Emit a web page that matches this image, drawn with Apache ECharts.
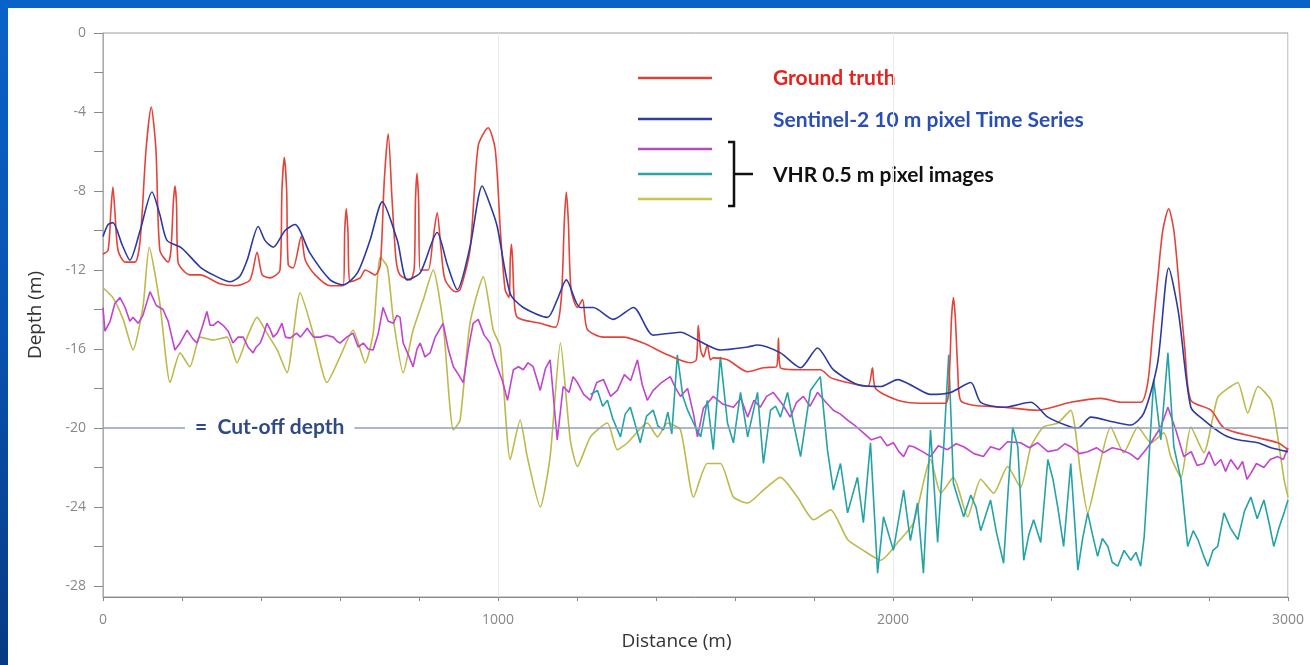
<!DOCTYPE html>
<html>
<head>
<meta charset="utf-8">
<title>Depth profile</title>
<script src="https://cdn.jsdelivr.net/npm/echarts@6/dist/echarts.min.js"></script>
<style>
  html, body {
    margin: 0;
    padding: 0;
    width: 1310px;
    height: 665px;
    overflow: hidden;
    background: linear-gradient(180deg, #0a62c8 0%, #0852b0 50%, #083a84 100%);
  }
  #ChartDom {
    position: absolute;
    left: 8px;
    top: 8px;
    width: 1302px;
    height: 657px;
    background: #ffffff;
  }
</style>
</head>
<body>
<div id="ChartDom"></div>
<script>
// [distance (m), depth (m)]
const groundTruth = [
  [0,-11.2],[13,-11.0],[20,-9.0],[25,-7.8],[30,-9.0],[38,-11.0],[56,-11.6],[81,-11.6],[94,-10.5],[109,-5.9],[122,-3.75],[134,-5.9],
  [144,-11.0],[165,-11.6],[172,-11.0],[178,-8.6],[182,-7.75],[186,-8.6],[190,-11.6],[220,-12.25],[246,-12.25],[296,-12.7],[334,-12.8],
  [372,-12.5],[390,-11.1],[403,-12.25],[423,-12.4],[448,-12.0],[453,-8.0],[459,-6.3],[465,-8.0],[469,-11.75],[481,-11.9],[502,-10.3],
  [512,-11.5],[537,-12.25],[575,-12.8],[608,-12.8],[612,-10.0],[616,-8.9],[620,-10.0],[626,-12.6],[651,-12.4],[664,-12.0],[689,-12.25],
  [702,-11.75],[712,-7.5],[722,-5.1],[732,-8.5],[742,-11.5],[752,-12.25],[778,-12.5],[788,-11.9],[791,-8.5],[795,-7.1],[799,-8.5],
  [803,-12.0],[823,-12.0],[835,-10.5],[846,-9.1],[856,-11.0],[866,-12.5],[892,-13.1],[904,-13.0],[929,-11.0],
  [950,-5.7],[975,-4.8],[993,-5.9],[1006,-10.0],[1018,-13.0],[1028,-13.4],[1031,-11.5],[1034,-10.7],[1037,-11.5],[1041,-13.5],[1049,-14.4],
  [1107,-14.7],[1145,-14.9],[1160,-13.5],[1168,-9.5],[1173,-8.05],[1178,-9.5],[1185,-13.0],[1201,-13.9],[1214,-13.5],[1226,-15.0],
  [1267,-15.4],[1317,-15.4],[1368,-15.7],[1419,-16.2],[1487,-16.7],[1502,-16.55],[1507,-14.8],[1513,-16.05],
  [1520,-16.4],[1530,-15.8],[1538,-16.55],[1545,-16.45],[1581,-16.55],[1632,-17.15],[1672,-16.95],[1705,-16.9],
  [1710,-15.45],[1715,-16.95],[1766,-17.05],[1816,-17.05],[1842,-17.45],[1885,-17.7],[1936,-17.9],[1948,-16.95],
  [1956,-18.0],[2012,-18.6],[2070,-18.75],[2133,-18.75],[2143,-17.1],[2148,-14.5],[2153,-13.4],[2158,-14.5],[2164,-17.1],[2171,-18.6],
  [2204,-18.85],[2280,-18.95],[2366,-19.1],[2450,-18.7],[2526,-18.5],[2577,-18.7],[2627,-18.7],[2645,-17.7],
  [2658,-15.0],[2670,-12.5],[2683,-10.0],[2698,-8.9],[2711,-10.0],[2723,-12.5],[2739,-16.05],[2754,-18.6],
  [2805,-19.1],[2838,-20.0],[2914,-20.45],[2974,-20.75],[3000,-21.1]
]
const sentinel = [
  [0,-10.3],[13,-9.7],[25,-9.6],[48,-10.7],[68,-11.5],[94,-10.0],[124,-8.05],[144,-9.2],[162,-10.5],[200,-10.9],
  [246,-11.85],[284,-12.3],[322,-12.6],[347,-12.3],[365,-11.5],[393,-9.8],[410,-10.5],[431,-10.85],[461,-10.0],
  [486,-9.7],[524,-11.15],[575,-12.5],[608,-12.75],[644,-12.15],[676,-10.5],[707,-8.55],[745,-10.5],[770,-12.5],
  [803,-12.15],[846,-10.1],[872,-11.75],[897,-13.0],[929,-10.85],[960,-7.75],[980,-8.7],[998,-9.8],[1031,-13.2],
  [1064,-13.9],[1125,-14.4],[1150,-13.5],[1173,-12.5],[1208,-13.9],[1241,-13.9],[1292,-14.5],[1343,-13.9],
  [1393,-15.3],[1462,-15.15],[1505,-15.55],[1563,-16.05],[1632,-15.9],[1657,-15.8],[1715,-16.2],[1766,-16.95],
  [1809,-15.95],[1849,-17.05],[1910,-17.8],[1969,-17.9],[2012,-17.55],[2052,-17.9],[2095,-18.3],[2146,-18.2],
  [2197,-17.7],[2222,-18.7],[2280,-18.95],[2349,-18.7],[2392,-19.45],[2450,-19.95],[2468,-20.0],[2501,-19.45],
  [2559,-19.7],[2602,-19.85],[2635,-19.25],[2670,-16.7],[2698,-11.9],[2723,-14.2],[2754,-18.95],[2787,-19.6],
  [2838,-20.35],[2873,-20.6],[2924,-20.75],[2957,-21.0],[3000,-21.2]
]
const vhrMagenta = [
  [0,-13.9],[5,-15.1],[18,-14.6],[30,-13.7],[43,-13.4],[56,-13.9],[68,-14.6],[76,-14.4],[89,-14.7],[101,-14.3],
  [119,-13.1],[135,-13.8],[152,-14.0],[165,-14.6],[182,-16.05],[195,-15.7],[213,-15.05],[228,-15.5],[238,-15.7],
  [251,-14.9],[263,-14.1],[271,-14.8],[279,-14.8],[291,-14.6],[304,-14.8],[317,-15.1],[329,-15.7],[342,-15.4],
  [355,-15.4],[367,-15.9],[380,-16.2],[388,-15.9],[398,-15.7],[406,-15.3],[415,-14.7],[423,-15.0],[431,-15.4],
  [441,-15.2],[453,-14.7],[462,-15.4],[474,-15.45],[490,-15.2],[500,-15.4],[517,-14.95],[533,-15.4],[550,-15.4],
  [566,-15.3],[583,-15.4],[592,-15.6],[600,-15.7],[617,-15.4],[633,-15.2],[646,-15.9],[659,-15.7],[671,-16.0],
  [684,-16.05],[697,-15.2],[709,-13.9],[722,-14.6],[735,-14.7],[744,-14.3],[752,-14.4],[760,-15.7],[773,-16.3],
  [785,-16.9],[795,-16.0],[803,-15.7],[815,-16.4],[828,-16.2],[841,-15.4],[861,-14.7],[874,-16.0],[887,-16.9],
  [900,-17.3],[912,-17.7],[925,-16.0],[937,-14.7],[950,-14.5],[965,-15.3],[980,-15.7],[988,-16.3],[998,-16.9],
  [1011,-17.6],[1024,-18.6],[1039,-17.05],[1052,-16.9],[1064,-17.05],[1076,-16.7],[1089,-16.9],[1107,-18.1],
  [1120,-17.0],[1132,-16.55],[1150,-20.6],[1165,-17.9],[1180,-18.2],[1190,-17.4],[1201,-17.7],[1217,-18.3],
  [1234,-18.6],[1250,-17.7],[1267,-17.55],[1285,-18.4],[1302,-18.1],[1320,-17.3],[1336,-17.6],[1353,-16.55],
  [1365,-17.8],[1378,-18.6],[1393,-18.1],[1414,-17.7],[1436,-17.4],[1450,-18.0],[1462,-18.4],[1480,-18.0],
  [1495,-19.3],[1505,-20.45],[1520,-19.0],[1545,-18.4],[1570,-18.8],[1596,-18.95],[1615,-18.5],[1632,-19.45],
  [1648,-18.6],[1664,-18.95],[1680,-18.4],[1697,-18.2],[1720,-18.8],[1740,-19.45],[1756,-18.7],[1773,-18.4],
  [1790,-18.9],[1809,-18.2],[1830,-18.7],[1849,-19.1],[1867,-19.3],[1885,-19.6],[1905,-19.9],[1925,-20.25],
  [1945,-20.6],[1969,-20.45],[1985,-20.9],[2001,-20.75],[2015,-21.2],[2027,-21.45],[2040,-20.9],[2052,-20.95],
  [2075,-21.2],[2095,-21.45],[2115,-20.9],[2138,-21.1],[2160,-20.8],[2179,-20.95],[2205,-21.3],[2229,-21.45],
  [2247,-20.95],[2270,-21.1],[2290,-20.7],[2323,-20.75],[2345,-21.0],[2366,-20.75],[2392,-21.2],[2417,-21.1],
  [2435,-20.8],[2450,-20.95],[2472,-21.3],[2493,-21.2],[2515,-21.0],[2533,-21.25],[2555,-21.0],[2577,-21.1],
  [2600,-21.3],[2620,-21.6],[2640,-21.1],[2653,-20.75],[2678,-19.95],[2696,-18.95],[2716,-20.1],[2736,-21.45],
  [2755,-21.2],[2770,-21.9],[2787,-21.8],[2800,-21.2],[2815,-21.9],[2830,-21.6],[2842,-22.2],[2855,-21.6],
  [2873,-22.1],[2885,-21.7],[2896,-22.6],[2906,-22.3],[2920,-21.8],[2939,-22.0],[2955,-21.6],[2974,-21.45],
  [2988,-21.6],[3000,-21.0]
]
const vhrTeal = [
  [1234,-18.3],[1252,-18.1],[1265,-18.9],[1277,-18.6],[1290,-19.5],[1310,-20.45],[1322,-19.3],[1335,-18.95],
  [1347,-19.8],[1360,-20.75],[1376,-19.4],[1393,-19.1],[1405,-19.9],[1419,-20.1],[1430,-19.2],[1440,-20.3],
  [1454,-16.3],[1468,-18.4],[1480,-19.1],[1495,-19.75],[1513,-20.45],[1530,-18.6],[1545,-21.1],[1563,-16.4],
  [1581,-19.75],[1596,-20.75],[1614,-18.2],[1632,-20.45],[1657,-18.2],[1672,-21.8],[1690,-19.1],[1703,-18.9],
  [1715,-19.45],[1733,-18.2],[1748,-19.75],[1766,-21.45],[1791,-18.1],[1816,-17.4],[1834,-21.1],[1849,-23.15],
  [1867,-21.8],[1885,-24.3],[1910,-22.5],[1925,-24.8],[1943,-20.75],[1961,-27.35],[1976,-24.5],[2001,-26.2],
  [2027,-23.15],[2044,-25.7],[2062,-23.8],[2077,-27.35],[2095,-20.1],[2113,-25.8],[2128,-21.1],[2141,-16.3],
  [2153,-22.8],[2165,-23.6],[2179,-24.5],[2197,-23.4],[2210,-24.0],[2222,-25.2],[2235,-24.4],[2247,-23.65],
  [2262,-25.3],[2280,-26.85],[2292,-23.0],[2303,-19.95],[2316,-20.95],[2331,-26.7],[2344,-25.4],[2356,-24.65],
  [2374,-25.8],[2392,-21.6],[2405,-22.6],[2417,-24.0],[2432,-26.0],[2450,-21.8],[2468,-27.2],[2480,-25.6],
  [2493,-24.3],[2505,-25.4],[2518,-26.5],[2530,-25.6],[2544,-26.0],[2555,-26.8],[2569,-27.0],[2585,-26.2],
  [2602,-26.7],[2615,-26.3],[2627,-27.0],[2636,-25.5],[2645,-22.6],[2660,-17.55],[2678,-20.6],[2696,-16.2],
  [2711,-20.95],[2729,-22.6],[2746,-26.0],[2760,-25.2],[2772,-25.65],[2785,-26.4],[2797,-27.0],[2810,-26.2],
  [2822,-26.0],[2838,-24.3],[2855,-25.1],[2873,-25.65],[2890,-24.2],[2906,-23.5],[2922,-24.6],[2939,-23.65],
  [2952,-24.8],[2964,-26.0],[2978,-25.0],[2990,-24.3],[3000,-23.65]
]
const vhrYellow = [
  [0,-12.9],[25,-13.4],[51,-14.5],[76,-16.05],[101,-13.9],[117,-10.85],[144,-13.7],[170,-17.7],[195,-16.2],
  [220,-16.9],[246,-15.4],[279,-15.55],[314,-15.4],[339,-16.7],[365,-15.4],[390,-14.4],[415,-15.2],[441,-16.05],
  [466,-17.2],[499,-13.15],[532,-15.2],[567,-17.7],[600,-16.4],[633,-15.05],[664,-16.7],[684,-15.2],[702,-11.35],
  [720,-11.85],[735,-14.5],[760,-17.2],[785,-15.05],[811,-13.5],[836,-12.0],[861,-14.7],[887,-20.1],[904,-19.6],
  [929,-14.7],[963,-12.35],[988,-15.05],[1006,-15.9],[1031,-21.6],[1056,-19.6],[1074,-21.45],[1107,-24.0],
  [1132,-21.45],[1158,-15.7],[1183,-20.6],[1201,-21.95],[1234,-20.45],[1277,-19.75],[1302,-21.1],[1328,-20.75],
  [1378,-19.75],[1404,-20.45],[1429,-19.75],[1462,-20.1],[1495,-23.5],[1530,-21.8],[1563,-21.8],[1596,-23.5],
  [1632,-23.8],[1672,-23.15],[1715,-22.5],[1758,-23.5],[1799,-24.65],[1842,-24.15],[1885,-25.65],[1925,-26.2],
  [1969,-26.7],[2012,-25.8],[2052,-24.8],[2095,-21.6],[2121,-23.3],[2153,-22.5],[2189,-24.5],[2222,-22.6],
  [2255,-23.3],[2290,-21.95],[2323,-23.0],[2349,-20.95],[2381,-19.95],[2417,-19.75],[2450,-19.1],[2475,-22.3],
  [2493,-24.3],[2518,-22.3],[2551,-19.95],[2584,-21.25],[2620,-19.95],[2653,-20.75],[2686,-20.25],[2703,-21.45],
  [2729,-22.5],[2754,-19.95],[2787,-21.25],[2822,-18.45],[2855,-17.9],[2873,-17.7],[2898,-19.25],[2924,-17.9],
  [2957,-18.6],[2974,-20.45],[2990,-22.6],[3000,-23.5]
]
const depthLabels = [0, -4, -8, -12, -16, -20, -24, -28]
const depthTicks = [0, -2, -4, -6, -8, -10, -12, -14, -16, -18, -20, -22, -24, -26, -28]
const cutOffDepth = -20

const colors = {
  truth: "#e5433a",
  sentinel: "#2b3aa3",
  magenta: "#c243cf",
  teal: "#23a3a6",
  yellow: "#bdb94a",
}

function lineSeries(name, data, color, smooth, extra) {
  return Object.assign(
    {
      name: name,
      type: "line",
      data: data,
      showSymbol: false,
      smooth: smooth,
      lineStyle: { color: color, width: 1.6 },
      itemStyle: { color: color },
    },
    extra || {}
  )
}

const chartDom = document.getElementById("ChartDom")
const myChart = echarts.init(chartDom)
const legendText = { fontFamily: "Lato", fontWeight: "bold", fontSize: 21, verticalAlign: "middle" }

let option = {
  animation: false,
  grid: {
    left: 95,
    right: 22,
    top: 25,
    bottom: 68,
    show: true,
    borderColor: "#9a9a9a",
    borderWidth: 1,
  },
  xAxis: {
    type: "value",
    min: 0,
    max: 3000,
    interval: 1000,
    name: "Distance (m)",
    nameLocation: "middle",
    nameGap: 33,
    nameTextStyle: { color: "#333", fontSize: 19, fontFamily: "Open Sans", padding: [0, 38, 0, 0] },
    axisLine: { onZero: false, lineStyle: { color: "#888" } },
    axisTick: { show: true, length: 4, lineStyle: { color: "#888" } },
    minorTick: { show: true, splitNumber: 5, length: 4, lineStyle: { color: "#888" } },
    axisLabel: {
      color: "#888",
      fontSize: 14,
      margin: 16,
      fontFamily: "Open Sans",
      formatter: (v) => String(v),
    },
    splitLine: { show: true, lineStyle: { color: "#ececec" } },
  },
  yAxis: {
    type: "value",
    min: -28.56,
    max: 0,
    name: "Depth (m)",
    nameLocation: "middle",
    nameGap: 58,
    nameTextStyle: { color: "#333", fontSize: 19, fontFamily: "Open Sans" },
    axisLine: { show: true, onZero: false, lineStyle: { color: "#aaa" } },
    axisTick: { show: true, length: 9, customValues: depthTicks, lineStyle: { color: "#888" } },
    axisLabel: {
      color: "#888",
      fontSize: 14,
      margin: 17,
      customValues: depthLabels,
      fontFamily: "Open Sans",
    },
    splitLine: { show: false },
  },
  series: [
    lineSeries("VHR yellow", vhrYellow, colors.yellow, 0.2),
    lineSeries("VHR magenta", vhrMagenta, colors.magenta, false, {
      markLine: {
        silent: true,
        symbol: "none",
        label: { show: false },
        lineStyle: { color: "#8f9fc0", width: 1.5, type: "solid" },
        data: [{ yAxis: cutOffDepth }],
      },
    }),
    lineSeries("VHR teal", vhrTeal, colors.teal, false),
    lineSeries("Ground truth", groundTruth, colors.truth, 0.25),
    lineSeries("Sentinel-2", sentinel, colors.sentinel, 0.25),
  ],
  graphic: [
    // legend
    { type: "line", shape: { x1: 630, y1: 70, x2: 704, y2: 70 }, style: { stroke: "#d8443e", lineWidth: 2.5 } },
    { type: "line", shape: { x1: 630, y1: 111, x2: 704, y2: 111 }, style: { stroke: "#2d3f9c", lineWidth: 2.5 } },
    { type: "line", shape: { x1: 630, y1: 141, x2: 704, y2: 141 }, style: { stroke: "#b44cc2", lineWidth: 2.5 } },
    { type: "line", shape: { x1: 630, y1: 166, x2: 704, y2: 166 }, style: { stroke: "#2fa3a3", lineWidth: 2.5 } },
    { type: "line", shape: { x1: 630, y1: 191, x2: 704, y2: 191 }, style: { stroke: "#cbc34a", lineWidth: 2.5 } },
    { type: "text", x: 765, y: 70, style: Object.assign({ text: "Ground truth", fill: "#e3241e" }, legendText) },
    { type: "text", x: 765, y: 112, style: Object.assign({ text: "Sentinel-2 10 m pixel Time Series", fill: "#2a4fb4" }, legendText) },
    { type: "text", x: 765, y: 167, style: Object.assign({ text: "VHR 0.5 m pixel images", fill: "#111" }, legendText) },
    {
      type: "polyline",
      shape: { points: [[720, 134], [726, 134], [726, 198], [720, 198]] },
      style: { stroke: "#111", lineWidth: 2.5, fill: null },
    },
    { type: "line", shape: { x1: 726, y1: 166, x2: 745, y2: 166 }, style: { stroke: "#111", lineWidth: 2.5 } },
    // cut-off label on the reference line
    {
      type: "text",
      x: 177,
      y: 419,
      z: 10,
      style: {
        text: "=  Cut-off depth",
        fill: "#2f4a88",
        fontFamily: "Lato",
        fontWeight: "bold",
        fontSize: 21,
        verticalAlign: "middle",
        backgroundColor: "#ffffff",
        padding: [2, 10, 2, 10],
      },
    },
  ],
}

myChart.setOption(option)
</script>
</body>
</html>
